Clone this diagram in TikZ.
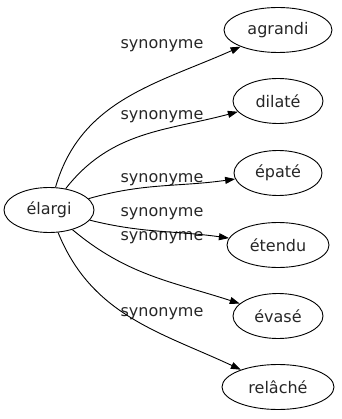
\documentclass[tikz,border=0pt]{standalone}
\usepackage{fontspec}
\setmainfont{DejaVu Sans}
\usetikzlibrary{shapes.geometric,arrows.meta}
\begin{document}
\begin{tikzpicture}[x=1pt,y=1pt,
  word/.style={draw,ellipse,minimum height=45pt,inner sep=0pt,line width=0.9pt,font=\fontsize{16}{19}\selectfont,text=black!85},
  lbl/.style={font=\fontsize{16}{19}\selectfont,inner sep=0pt,text=black!85},
  edge/.style={-{Triangle[length=10pt,width=7pt]},line width=0.9pt}]
\useasboundingbox (0,0) rectangle (341,-419);
\node[word,minimum width=90pt] (e) at (49,-210) {élargi};
\node[word,minimum width=108pt] (a) at (278,-30) {agrandi};
\node[word,minimum width=90pt] (d) at (278,-101) {dilaté};
\node[word,minimum width=88pt] (p) at (278,-173) {épaté};
\node[word,minimum width=102pt] (t) at (278,-245) {étendu};
\node[word,minimum width=90pt] (v) at (278,-316) {évasé};
\node[word,minimum width=112pt] (r) at (278,-387) {relâché};
\node[lbl] (l1) at (162,-46) {synonyme};
\node[lbl] (l2) at (162,-117) {synonyme};
\node[lbl] (l3) at (162,-180) {synonyme};
\node[lbl] (l4) at (162,-214) {synonyme};
\node[lbl] (l5) at (162,-238) {synonyme};
\node[lbl] (l6) at (162,-314) {synonyme};
\draw[edge] (e) to[out=74,in=204] (a);
\draw[edge] (e) to[out=52,in=195] (d);
\draw[edge] (e) to[out=16,in=188] (p);
\draw[edge] (e) to[out=-14,in=172] (t);
\draw[edge] (e) to[out=-40,in=162] (v);
\draw[edge] (e) to[out=-68,in=155] (r);
\end{tikzpicture}
\end{document}
